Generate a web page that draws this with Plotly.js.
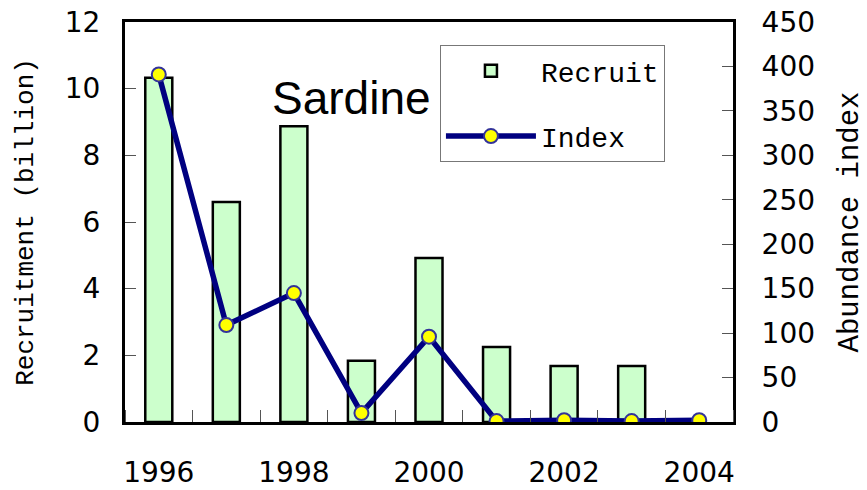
<!DOCTYPE html>
<html>
<head>
<meta charset="utf-8">
<script src="https://cdn.plot.ly/plotly-3.0.1.min.js"></script>
<style>html,body{margin:0;padding:0;background:#fff;}#chart{width:867px;height:490px;}</style>
</head>
<body>
<div id="chart"></div>
<script>
const years = [1996, 1997, 1998, 1999, 2000, 2001, 2002, 2003, 2004];
const recruit = [10.33, 6.6, 8.87, 1.84, 4.92, 2.25, 1.68, 1.68, null];
const abundanceIndex = [391, 109, 145, 10, 96, 1, 2, 1, 2];
const xTickVals = [1996, 1998, 2000, 2002, 2004];
const xTickText = ['1996', '1998', '2000', '2002', '2004'];

const monoFont = 'Liberation Mono, DejaVu Sans Mono, monospace';
const sansFont = 'DejaVu Sans, sans-serif';

const traces = [
  {
    type: 'bar', name: 'Recruit', x: years, y: recruit, width: 0.4,
    marker: {color: '#CCFFCC', line: {color: '#000000', width: 2.5}},
    yaxis: 'y', legendgroup: 'a', hoverinfo: 'x+y'
  },
  {
    type: 'scatter', mode: 'lines+markers', name: 'Index', x: years, y: abundanceIndex,
    line: {color: '#000080', width: 5.5},
    marker: {color: '#FFFF00', size: 14, line: {color: '#333399', width: 2}},
    yaxis: 'y2', legendgroup: 'b', hoverinfo: 'x+y'
  }
];

const layout = {
  width: 867, height: 490,
  margin: {l: 125, r: 134, t: 22, b: 68, pad: 0},
  paper_bgcolor: '#ffffff', plot_bgcolor: '#ffffff',
  showlegend: true,
  bargap: 0.6,
  xaxis: {
    range: [1995.5, 2004.5],
    tickvals: xTickVals, ticktext: xTickText,
    ticks: '', showgrid: false, zeroline: false,
    showline: true, linecolor: '#000', linewidth: 3, mirror: true,
    tickfont: {family: sansFont, size: 28, color: '#000'},
    ticklabelstandoff: 23,
    minor: {tick0: 1995.5, dtick: 1, ticks: 'inside', ticklen: 12, tickcolor: '#555', tickwidth: 1, showgrid: false}
  },
  yaxis: {
    range: [0, 12], dtick: 2, tick0: 0,
    ticks: 'inside', ticklen: 11, tickcolor: '#555', tickwidth: 1,
    showgrid: false, zeroline: false,
    showline: true, linecolor: '#000', linewidth: 3,
    tickfont: {family: sansFont, size: 28, color: '#000'},
    ticklabelstandoff: 16,
    title: {text: 'Recruitment (billion)', font: {family: monoFont, size: 26, color: '#000'}, standoff: 24}
  },
  yaxis2: {
    range: [0, 450], dtick: 50, tick0: 0,
    overlaying: 'y', side: 'right',
    ticks: 'inside', ticklen: 11, tickcolor: '#555', tickwidth: 1,
    showgrid: false, zeroline: false,
    showline: true, linecolor: '#000', linewidth: 3,
    tickfont: {family: sansFont, size: 28, color: '#000'},
    ticklabelstandoff: 20,
    title: {text: 'Abundance index', font: {family: monoFont, size: 29, color: '#000'}, standoff: 24}
  },
  legend: {
    x: 0.518, y: 0.9425, xanchor: 'left', yanchor: 'top',
    bgcolor: '#ffffff', bordercolor: '#777', borderwidth: 1,
    font: {family: monoFont, size: 28, color: '#000'},
    traceorder: 'grouped', tracegroupgap: 26, itemwidth: 90
  },
  annotations: [
    {text: 'Sardine', xref: 'paper', yref: 'paper', x: 0.372, y: 0.81, xanchor: 'center', yanchor: 'middle',
     showarrow: false, font: {family: 'Liberation Sans, Arial, sans-serif', size: 46, color: '#000'}}
  ]
};

Plotly.newPlot('chart', traces, layout, {displayModeBar: false, staticPlot: true});
</script>
</body>
</html>
